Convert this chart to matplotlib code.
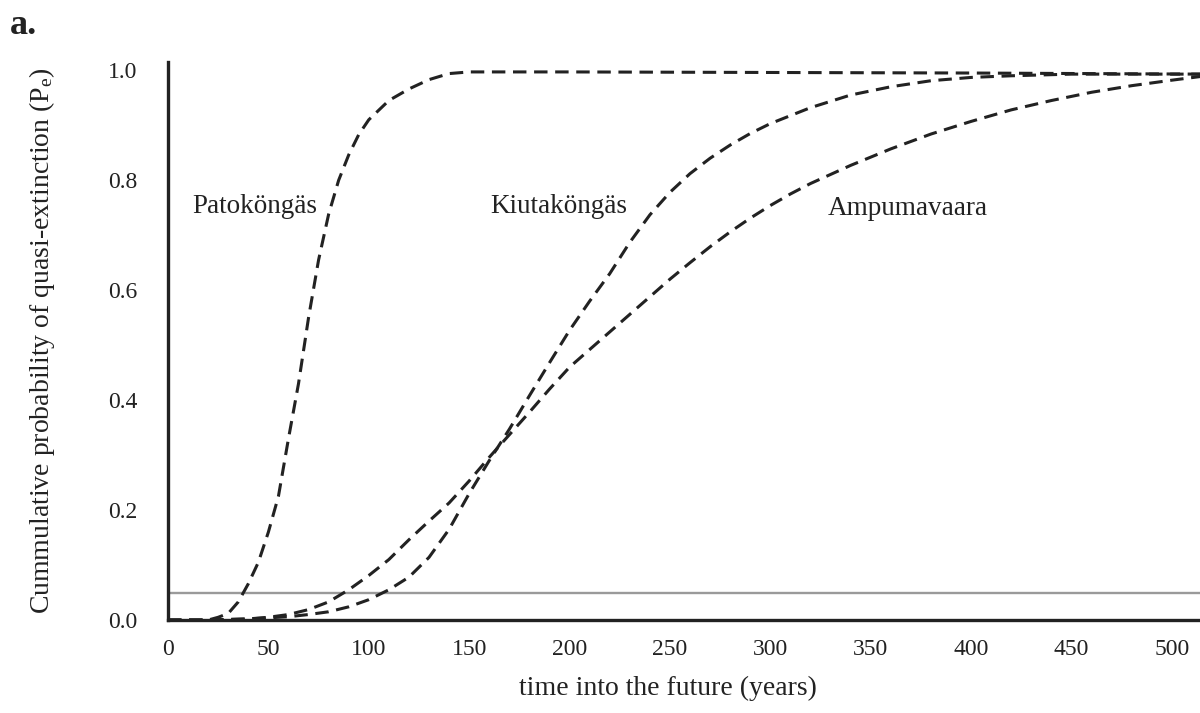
import numpy as np
import matplotlib
matplotlib.use("Agg")
import matplotlib.pyplot as plt

plt.rcParams['font.family'] = ['Liberation Serif', 'DejaVu Serif']
plt.rcParams['mathtext.fontset'] = 'custom'
plt.rcParams['mathtext.rm'] = 'Liberation Serif'
plt.rcParams['mathtext.it'] = 'Liberation Serif:italic'

# ---- data ----
pato_t = [0, 10, 20, 25, 30, 35, 40, 45, 50, 55, 60, 65, 70, 75, 80, 85, 90, 95,
          100, 110, 120, 130, 140, 150, 200, 300, 400, 515]
pato_p = [0, 0, 0, 0.005, 0.012, 0.033, 0.066, 0.105, 0.16, 0.225, 0.33, 0.43,
          0.55, 0.655, 0.738, 0.80, 0.846, 0.883, 0.91, 0.945, 0.966, 0.983,
          0.994, 0.997, 0.997, 0.996, 0.995, 0.993]

kiut_t = [0, 20, 40, 60, 70, 80, 90, 100, 110, 120, 130, 140, 150, 160, 170, 180,
          190, 200, 210, 220, 230, 240, 250, 260, 270, 280, 290, 300, 320, 340,
          360, 380, 400, 420, 450, 515]
kiut_p = [0, 0, 0.002, 0.006, 0.010, 0.015, 0.024, 0.037, 0.055, 0.078, 0.114,
          0.165, 0.230, 0.290, 0.347, 0.408, 0.468, 0.527, 0.580, 0.630, 0.687,
          0.737, 0.778, 0.812, 0.840, 0.864, 0.885, 0.903, 0.932, 0.955, 0.970,
          0.981, 0.987, 0.990, 0.993, 0.993]

ampu_t = [0, 20, 40, 50, 60, 70, 80, 90, 100, 110, 120, 130, 140, 150, 160, 170,
          180, 190, 200, 210, 220, 230, 240, 250, 260, 270, 280, 290, 300, 310,
          320, 340, 360, 380, 400, 420, 440, 460, 480, 500, 515]
ampu_p = [0, 0, 0.002, 0.005, 0.010, 0.019, 0.033, 0.055, 0.081, 0.110, 0.146,
          0.180, 0.213, 0.253, 0.296, 0.337, 0.378, 0.420, 0.460, 0.492, 0.524,
          0.556, 0.588, 0.620, 0.650, 0.679, 0.706, 0.731, 0.754, 0.775, 0.794,
          0.827, 0.857, 0.884, 0.907, 0.928, 0.945, 0.960, 0.972, 0.982, 0.989]

threshold = 0.05
x_ticks = [0, 50, 100, 150, 200, 250, 300, 350, 400, 450, 500]
y_ticks = [0.0, 0.2, 0.4, 0.6, 0.8, 1.0]
labels = ["Patoköngäs", "Kiutaköngäs", "Ampumavaara"]
label_pos = [(12.0, 0.752), (160.5, 0.752), (328.5, 0.748)]

# ---- figure ----
fig = plt.figure(figsize=(12, 7.13), dpi=100)
ax = fig.add_axes([0.14, 0.1304, 0.86, 0.7826])

ax.axhline(threshold, color='#9a9a9a', lw=1.7, zorder=1)

dash_style = dict(color='#222222', lw=2.2, dashes=(4.4, 2.5), zorder=2)
ax.plot(pato_t, pato_p, **dash_style)
ax.plot(kiut_t, kiut_p, **dash_style)
ax.plot(ampu_t, ampu_p, **dash_style)

for txt, (xx, yy) in zip(labels, label_pos):
    ax.text(xx, yy, txt, fontsize=19.5, color='#222222', ha='left', va='center')

ax.set_xlim(0, 514)
ax.set_ylim(0, 1.015)
ax.set_xticks(x_ticks)
ax.set_yticks(y_ticks)
ax.set_yticklabels([f"{v:.1f}" for v in y_ticks])
ax.tick_params(axis='both', length=0, labelsize=17, colors='#222222')
ax.tick_params(axis='y', pad=22)
ax.tick_params(axis='x', pad=14)

for s in ['top', 'right']:
    ax.spines[s].set_visible(False)
for s in ['left', 'bottom']:
    ax.spines[s].set_linewidth(2.4)
    ax.spines[s].set_color('#222222')

ax.set_xlabel("time into the future (years)", fontsize=20, color='#222222')
ax.xaxis.set_label_coords(0.4845, -0.100)
ax.set_ylabel(r"Cummulative probability of quasi-extinction (P$_\mathrm{e}$)",
              fontsize=20, color='#222222')
ax.yaxis.set_label_coords(-0.108, 0.5)

fig.text(0.008, 0.988, "a.", fontsize=26, fontweight='bold', color='#222222',
         ha='left', va='top')

fig.savefig("out.png", dpi=100)
